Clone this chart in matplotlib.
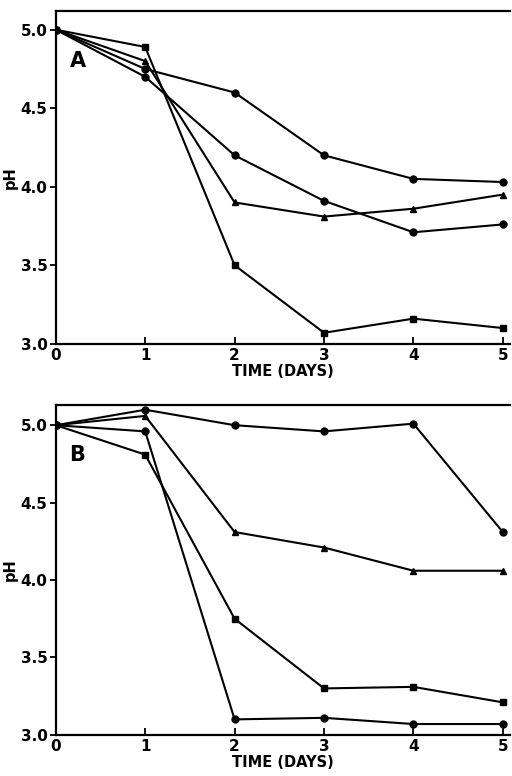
import numpy as np
import matplotlib
matplotlib.use('Agg')
import matplotlib.pyplot as plt

# days on the x axis
days = [0, 1, 2, 3, 4, 5]

# panel A series (pH)
a_circle_hi = [5.0, 4.75, 4.6, 4.2, 4.05, 4.03]
a_circle_lo = [5.0, 4.70, 4.2, 3.91, 3.71, 3.76]
a_triangle = [5.0, 4.80, 3.90, 3.81, 3.86, 3.95]
a_square = [5.0, 4.89, 3.50, 3.07, 3.16, 3.10]

# panel B series (pH)
b_circle_hi = [5.0, 5.10, 5.0, 4.96, 5.01, 4.31]
b_triangle = [5.0, 5.06, 4.31, 4.21, 4.06, 4.06]
b_square = [5.0, 4.81, 3.75, 3.30, 3.31, 3.21]
b_circle_lo = [5.0, 4.96, 3.10, 3.11, 3.07, 3.07]

yticks = [3.0, 3.5, 4.0, 4.5, 5.0]

plt.rcParams['font.family'] = 'DejaVu Sans'
plt.rcParams['font.weight'] = 'bold'

fig = plt.figure(figsize=(5.12, 7.76), dpi=100)
ax_a = fig.add_axes([0.109, 0.557, 0.887, 0.429])
ax_b = fig.add_axes([0.109, 0.053, 0.887, 0.425])

style = dict(color='black', lw=1.5, markersize=5)

ax_a.plot(days, a_circle_hi, marker='o', **style)
ax_a.plot(days, a_circle_lo, marker='o', **style)
ax_a.plot(days, a_triangle, marker='^', **style)
ax_a.plot(days, a_square, marker='s', **style)

ax_b.plot(days, b_circle_hi, marker='o', **style)
ax_b.plot(days, b_triangle, marker='^', **style)
ax_b.plot(days, b_square, marker='s', **style)
ax_b.plot(days, b_circle_lo, marker='o', **style)

for ax, label, top in [(ax_a, 'A', 5.12), (ax_b, 'B', 5.13)]:
    ax.set_xlim(0, 5.08)
    ax.set_ylim(3.0, top)
    ax.set_xticks(days)
    ax.set_yticks(yticks)
    ax.set_yticklabels([f'{v:.1f}' for v in yticks])
    ax.spines['right'].set_visible(False)
    for s in ['left', 'bottom', 'top']:
        ax.spines[s].set_linewidth(1.6)
    ax.tick_params(axis='x', direction='in', length=5, width=1.3, labelsize=11, pad=3)
    ax.tick_params(axis='y', direction='out', length=4, width=1.3, labelsize=11, pad=2)
    ax.set_xlabel('TIME (DAYS)', fontsize=10.5, fontweight='bold', labelpad=1)
    ax.set_ylabel('pH', fontsize=10.5, fontweight='bold', labelpad=2)
    ax.text(0.03, 0.85, label, transform=ax.transAxes, fontsize=15,
            fontweight='bold', ha='left', va='center')

plt.savefig('out.png', dpi=100)
